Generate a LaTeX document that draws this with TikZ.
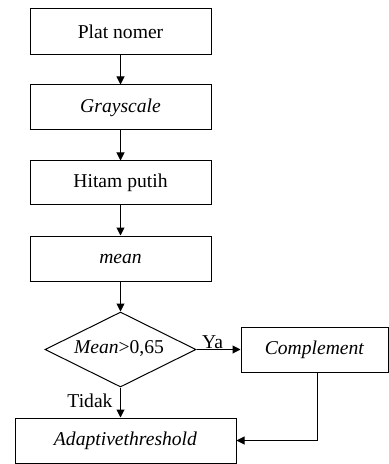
\documentclass[tikz,border=0pt]{standalone}
\usepackage{fontspec}
\setmainfont{LiberationSerif}[Extension=.ttf,UprightFont=*-Regular,ItalicFont=*-Italic,BoldFont=*-Bold,BoldItalicFont=*-BoldItalic]
\usetikzlibrary{arrows.meta,shapes.geometric}
\begin{document}
\begin{tikzpicture}[x=0.5pt,y=-0.5pt,
  every node/.style={font=\fontsize{9.8pt}{11pt}\selectfont},
  box/.style={draw,line width=0.5pt,rectangle,inner sep=0pt},
  arr/.style={line width=0.5pt,-{Triangle[length=4pt,width=4pt]}},
  lbl/.style={inner sep=0pt}]
\useasboundingbox (0,0) rectangle (389,464);
\node[box,minimum width=90.5pt,minimum height=23pt] (b1) at (120.5,32) {Plat nomer};
\node[box,minimum width=90.5pt,minimum height=22.5pt] (b2) at (120.5,107.5) {\textit{Grayscale}};
\node[box,minimum width=90.5pt,minimum height=22pt] (b3) at (120.5,183) {Hitam putih};
\node[box,minimum width=90.5pt,minimum height=22.5pt] (b4) at (120.5,258.5) {\textit{mean}};
\node[draw,line width=0.5pt,diamond,aspect=2,inner sep=0pt,minimum width=75.5pt,minimum height=37.5pt] (d) at (120.5,349.5) {};
\node[lbl] (dt) at (119,348) {\textit{Mean}>0,65};
\node[box,minimum width=73.5pt,minimum height=22.5pt] (c) at (314.5,349.5) {\textit{Complement}};
\node[box,minimum width=110.5pt,minimum height=22.5pt] (a) at (125.5,440.5) {\textit{Adaptivethreshold}};
\node[lbl] (ya) at (212.5,342) {Ya};
\node[lbl] (tk) at (90,401) {Tidak};
\draw[arr] (b1) -- (b2);
\draw[arr] (b2) -- (b3);
\draw[arr] (b3) -- (b4);
\draw[arr] (b4.south -| d.north) -- (d.north);
\draw[arr] (d.east) -- (c.west);
\draw[arr] (d.south) -- (d.south |- a.north);
\draw[arr] (c.south -| 317,0) |- (a.east);
\end{tikzpicture}
\end{document}
